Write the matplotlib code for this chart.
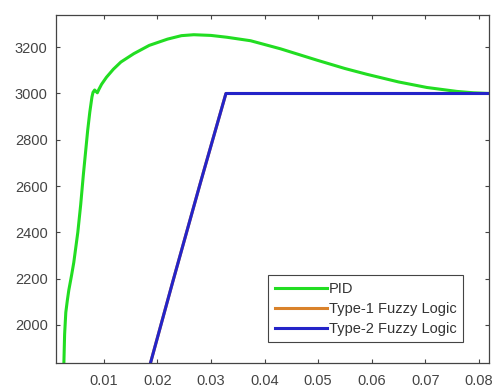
import numpy as np
import matplotlib.pyplot as plt

plt.rcParams["font.family"] = ["Liberation Sans", "DejaVu Sans"]

# speed response (rpm) vs time (s)
t_pid = [0.00255, 0.0027, 0.00292, 0.0032, 0.00348, 0.0040, 0.00441, 0.00516,
         0.0057, 0.0062, 0.0066, 0.0070, 0.0074, 0.0078, 0.0080, 0.0083,
         0.0086, 0.0088, 0.0091, 0.0096, 0.0105, 0.0118, 0.0132, 0.0156,
         0.0185, 0.0219, 0.0245, 0.0268, 0.030, 0.033, 0.0374, 0.043,
         0.0498, 0.055, 0.0591, 0.065, 0.0703, 0.0759, 0.079, 0.082]
w_pid = [1825, 1960, 2054, 2105, 2150, 2215, 2270, 2400,
         2520, 2650, 2745, 2840, 2920, 2985, 3005, 3015,
         3008, 3003, 3018, 3040, 3070, 3105, 3136, 3172,
         3208, 3235, 3250, 3254, 3251, 3243, 3228, 3193,
         3144, 3108, 3083, 3050, 3026, 3009, 3003, 3000]

t_fuzzy = [0.0186, 0.02285, 0.02806, 0.0328, 0.082]
w_fuzzy = [1825, 2184, 2616, 3000, 3000]

labels = ["PID", "Type-1 Fuzzy Logic", "Type-2 Fuzzy Logic"]

fig = plt.figure(figsize=(4.96, 3.9), dpi=100)
ax = fig.add_axes([0.113, 0.069, 0.873, 0.893])

ax.plot(t_pid, w_pid, color="#22dd22", lw=2.2, label=labels[0])
ax.plot(t_fuzzy, w_fuzzy, color="#d9822b", lw=2.2, label=labels[1])
ax.plot(t_fuzzy, w_fuzzy, color="#2424c8", lw=2.2, label=labels[2])

ax.set_xlim(0.0011, 0.0819)
ax.set_ylim(1835, 3340)
ax.set_xticks([0.01, 0.02, 0.03, 0.04, 0.05, 0.06, 0.07, 0.08])
ax.set_xticklabels(["0.01", "0.02", "0.03", "0.04", "0.05", "0.06", "0.07", "0.08"])
ax.set_yticks([2000, 2200, 2400, 2600, 2800, 3000, 3200])

ax.tick_params(direction="in", top=True, right=True, length=3,
               labelsize=10.5, labelcolor="#444444", color="#444444")
ax.tick_params(axis="x", pad=8)
ax.tick_params(axis="y", pad=6)
for s in ax.spines.values():
    s.set_color("#444444")
    s.set_linewidth(0.9)

leg = ax.legend(loc="lower right", bbox_to_anchor=(0.94, 0.06), fontsize=10.5,
                fancybox=False, framealpha=1, edgecolor="#444444",
                handlelength=3.6, handletextpad=0.1, borderpad=0.45,
                labelspacing=0.4, borderaxespad=0)
leg.get_frame().set_linewidth(0.8)
for txt in leg.get_texts():
    txt.set_color("#333333")

fig.savefig("out.png", dpi=100)
